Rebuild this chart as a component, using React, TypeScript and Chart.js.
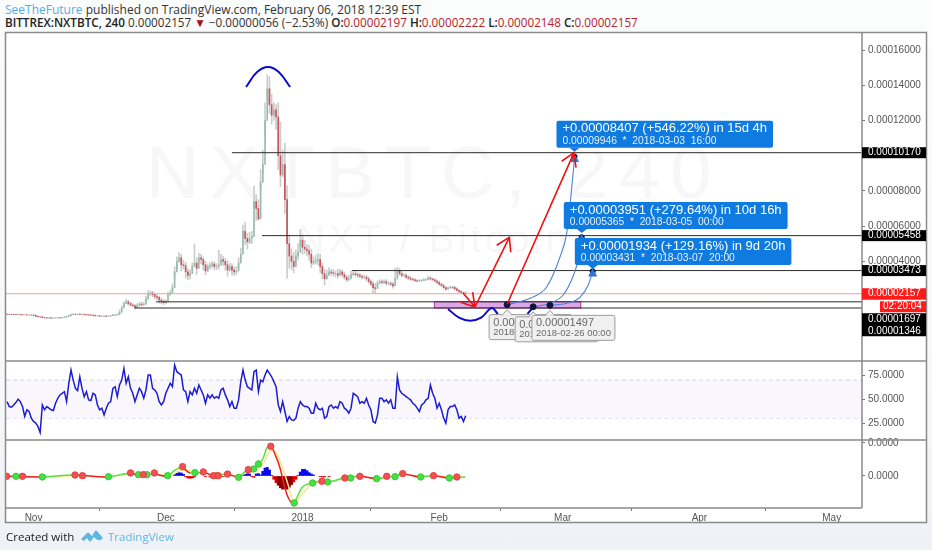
import React, { useEffect, useRef } from "react";
import { Chart, registerables } from "chart.js";

Chart.register(...registerables);

// x values are days since 2017-11-01; prices are in satoshi (1e-8 BTC)
const xTickDays = [0, 30, 61, 92, 120, 151, 181];
const xTickLabels = ["Nov", "Dec", "2018", "Feb", "Mar", "Apr", "May"];
const priceTicks = [4000, 6000, 8000, 10000, 12000, 14000, 16000];
const rsiTicks = [25, 50, 75];
const oscTicks = [0, 5];

const firstCandleDay = -6;
const candleStepDays = 0.5;

const candleCloses = [
  990,985,980,975,970,985,975,960,965,950,
  950,945,935,880,850,840,800,790,780,785,
  770,780,790,790,785,800,830,860,900,960,
  990,985,995,980,985,975,960,950,940,925,
  900,905,880,880,890,870,890,910,940,945,
  960,1100,1350,1600,1700,1600,1520,1480,1370,1500,
  1570,1530,1560,1850,2150,2200,2100,2000,1950,1800,
  1730,1650,1700,2100,2200,2500,3400,4000,4200,3800,
  3750,3400,3200,3300,3700,3900,3600,4200,4100,3800,
  3450,3700,3750,3850,3700,3720,3800,4100,4000,3800,
  3500,3700,3500,3400,3450,3900,4400,5700,5300,5100,
  5300,5400,7400,7000,6400,8500,9500,12000,13800,12900,
  12300,12600,12200,10000,8900,9500,7500,5000,4300,4000,
  3700,4300,4500,5200,4800,4700,4600,4400,3900,4000,
  4050,4100,3700,3300,3000,3200,3400,3350,3300,3300,
  3200,3400,3250,3100,2950,3000,3250,3300,3250,3200,
  3150,3100,3100,3000,2850,2700,2500,2450,2750,2850,
  2800,2850,2750,2750,2700,2600,3000,3450,3300,3200,
  3200,3100,3050,2980,2950,2900,2880,2900,2920,2950,
  2950,3050,3000,2950,2880,2800,2700,2620,2500,2420,
  2480,2530,2520,2430,2350,2280,2220,2197,2157,
];
const candleUpperWicks = [
  20,15,25,10,20,15,20,10,15,20,
  15,20,30,25,20,15,20,25,30,15,
  25,15,20,30,20,25,30,40,40,45,
  30,35,25,30,20,30,25,20,30,25,
  30,20,25,30,20,25,30,25,40,30,
  60,150,120,100,140,90,70,80,60,100,
  90,110,100,160,180,120,100,90,110,80,
  120,90,120,130,150,200,300,250,300,200,
  250,200,180,220,200,1080,300,250,200,150,
  200,150,180,130,120,150,840,300,200,180,
  250,200,150,180,250,300,350,360,500,300,
  350,300,880,400,500,700,800,1000,790,700,
  600,400,300,800,1900,800,1200,800,500,400,
  500,350,500,600,300,400,250,300,300,250,
  300,350,300,200,250,300,250,150,200,150,
  250,150,120,150,100,200,200,100,120,100,
  120,100,100,100,120,100,150,250,150,100,
  100,100,120,100,100,100,600,210,150,120,
  100,100,90,80,70,80,60,70,60,80,
  70,110,80,60,70,60,80,60,90,60,
  70,60,60,70,60,50,60,25,65,
];
const candleLowerWicks = [
  15,20,10,25,15,20,15,20,10,15,
  20,15,25,30,25,20,15,20,25,30,
  20,30,20,25,20,15,25,30,30,40,
  35,25,30,25,30,25,30,25,20,30,
  25,30,20,25,30,20,25,30,25,30,
  40,80,100,150,120,100,90,70,100,80,
  120,90,70,150,200,150,130,120,150,170,
  150,110,100,120,130,200,350,300,250,350,
  200,350,250,300,250,200,350,300,250,300,
  220,280,200,230,180,200,250,300,250,300,
  350,250,280,220,200,250,300,400,350,400,
  300,400,350,700,50,400,500,800,600,500,
  500,600,700,800,650,700,800,1970,700,500,
  350,300,400,300,400,250,300,350,250,200,
  200,300,350,300,350,200,150,150,150,200,
  150,200,150,120,100,120,100,120,100,120,
  100,120,100,120,110,100,320,270,120,110,
  100,120,110,100,100,120,80,150,120,100,
  90,80,90,70,60,60,60,50,70,60,
  60,90,70,70,60,70,80,60,70,80,
  50,60,70,60,50,60,40,50,9,
];

const rsiValues = [
  47.5,42.3,41.6,44,46.5,50,47.5,42.3,31.9,38.9,
  37.1,30.2,26.7,25,21.5,15.2,44,38.9,42.3,40.6,
  38.9,38.2,45.8,51,54.5,56.2,57.9,47.5,66.6,80.5,
  70,61.4,59,73.5,61.4,52.7,57.9,49.3,48.6,56.2,
  54.5,44,38.9,40.6,33.6,40.6,45.8,47.5,61.4,63.1,
  52.7,64.9,70,82.2,66.6,73.5,61.4,56.2,47.5,54.5,
  61.4,57.9,51,59.7,75.3,75.3,61.4,59.7,56.2,47.5,
  44,47.5,56.2,61.4,66.6,63.1,85.7,78.8,77,75.3,
  59.7,57.9,47.5,57.9,54.5,61.4,56.2,64.9,59.7,54.5,
  45.8,54.5,51,54.5,51,52.7,51,59.7,61.4,54.5,
  49.3,42.3,47.5,40.6,40.6,49.3,68.3,80.5,70,63.1,
  61.4,59.7,78.8,80.5,57.9,70,68.3,75.3,80.5,77,
  73.5,68.3,63.1,44,37.1,47.5,37.1,26.7,31.9,28.4,
  27.7,30.2,40.6,47.5,44,42.3,42.3,40.6,35.4,35.4,
  45.8,40.6,38.9,40.6,30.2,31.9,42.3,44,40.6,42.3,
  40.6,47.5,45.8,40.6,38.9,35.4,40.6,56.2,54.5,52.7,
  45.8,47.5,45.8,51,44,38.9,26.7,25,33.6,51,
  51,47.5,49.3,45.8,49.3,40.6,40.6,73.5,59.7,56.2,
  54.5,52.7,51,49.3,45.8,44,40.6,37.1,44,45.8,
  49.3,51,64.9,56.2,51,40.6,45.8,38.9,30.2,25,
  38.9,42.3,42.3,44,38.9,30.2,31.9,26.7,32.6,
];
const rsiBandLevels = [70, 30];

// oscillator values in 1e-6 units
const oscDays = [-6.1,1.5,9,16.6,21.9,24.2,27.2,30.2,31.7,33.6,35.5,37,38.4,40.8,43.8,46.5,48,49.9,51,52.1,52.9,53.8,54.8,55.9,57,57.8,58.9,59.7,60.8,63.1,65.4,66.9,70.3,74,77.8,80.9,83.9,87.7,90.7,94.1,97.9];
const oscFast = [-0.05,-0.15,0.15,-0.15,0.41,0.1,0.3,-0.05,0.71,1.32,0.46,0.46,0.61,0.05,0.3,-0.2,0.71,1.11,1.82,2.73,4.24,4.5,3.23,1.22,-1.82,-3.33,-4.19,-3.33,-1.82,-1.06,-0.8,-0.9,-0.3,-0.05,-0.4,-0.1,0.3,-0.15,0.05,-0.3,-0.2];
const oscSlow = [-0.05,-0.1,0.05,-0.1,0.25,0.2,0.25,0.1,0.3,0.9,0.8,0.5,0.5,0.2,0.2,0,0.4,0.8,1.2,1.9,2.9,3.8,3.8,2.2,0.2,-1.5,-3.7,-3.8,-2.8,-1.3,-0.95,-0.9,-0.4,-0.1,-0.3,-0.15,0.2,-0.05,0.02,-0.2,-0.15];
const histDays = [32,32.5,33,33.5,34,34.5,35,35.5,36,36.5,39,40,41,42,43,47.5,48,48.5,49,49.5,50,50.5,51,51.5,52,52.5,53,53.5,54,54.5,55,55.5,56,56.5,57,57.5,58,58.5,59,59.5,60,60.5,61,61.5,62,62.5,63,63.5,65,65.5,66,67];
const histValues = [0.2,0.4,0.5,0.45,0.25,-0.1,-0.3,-0.35,-0.3,-0.15,-0.05,-0.15,-0.2,-0.15,-0.1,0.2,0.45,0.5,0.3,-0.1,-0.2,0.3,0.35,0.15,0.7,1.2,1.3,0.9,0.1,-0.5,-1,-1.4,-1.8,-2,-1.9,-2,-1.7,-1.3,-0.9,-0.5,0.1,0.6,1,1,0.8,0.5,0.3,0.15,-0.1,-0.15,-0.15,-0.12];
const redDotDays = [-6.1,-2.5,9.4,11.1,22,24.9,27.4,33.8,38.5,40.8,41.9,44,48.7,53.8,65.4,70.6,74,80.1,83.7,90.7,96];
const redDotValues = [-0.05,-0.05,0.15,0.05,0.46,0.2,0.46,1.42,0.61,0.05,0.05,0.3,0.96,4.5,-0.8,-0.3,-0.05,-0.05,0.36,0.05,-0.15];
const greenDotDays = [-4,2,17,23.8,25.7,30.4,36.6,41.5,46.5,49.9,51,59.1,63.3,66.7,71.9,77.8,82,87.8,94.3];
const greenDotValues = [-0.05,-0.15,-0.1,0.2,0.2,0.05,0.51,0.05,-0.2,1.06,1.82,-4.09,-1.06,-0.9,-0.3,-0.4,-0.1,-0.15,-0.3];

// horizontal levels: price and the day each starts on
const levelPrices = [10170, 5458, 3473, 1697, 1346];
const levelStartDays = [45, 51.8, 72.2, 27.8, 23];
const lastPrice = 2157;

const topArcDays = [48.2, 50.7, 53.2, 55.6, 58.2];
const topArcPrices = [13904, 14756, 15040, 14756, 13904];
const bottomArcDays = [94, 96.5, 99, 101.5, 103.9, 105.3];
const bottomArcPrices = [1290, 800, 625, 800, 1347, 1000];
const bottomArc2Days = [112, 113.3];
const bottomArc2Prices = [1010, 1386];

const zoneDays = [90.9, 124.1];
const zonePrices = [1705, 1347];

const redArrowStartDays = [97.4, 100.1, 107.4];
const redArrowStartPrices = [2199, 1403, 1557];
const redArrowEndDays = [100.1, 107.9, 122.56];
const redArrowEndPrices = [1403, 5364, 10171];

const curveADays = [107.4, 112.6, 116.4, 119.4, 120.9, 122, 122.67];
const curveAPrices = [1539, 1898, 2557, 4261, 5591, 8051, 9853];
const curveBDays = [113.3, 117.1, 120.1, 122, 123.3, 124.3];
const curveBPrices = [1414, 1614, 2085, 2938, 3886, 5365];
const curveCDays = [117.1, 120.9, 123.9, 125.8, 126.8];
const curveCPrices = [1497, 1614, 1955, 2653, 3431];

const projectionTipDays = [122.67, 124.33, 126.83];
const projectionTipPrices = [10170, 5551, 3506];
const projectionHeads = ["+0.00008407 (+546.22%) in 15d 4h", "+0.00003951 (+279.64%) in 10d 16h", "+0.00001934 (+129.16%) in 9d 20h"];
const projectionSubs = ["0.00009946  *  2018-03-03  16:00", "0.00005365  *  2018-03-05  00:00", "0.00003431  *  2018-03-07  20:00"];
const startTipDays = [107.4, 113.3, 117.1];
const startTipPrices = [1539, 1414, 1497];
const startHeads = ["0.00001539", "0.00001414", "0.00001497"];
const startSubs = ["2018-02-16 12:00", "2018-02-22 08:00", "2018-02-26 00:00"];

const blackBadgePrices = [10170, 5458, 3473];
const stackedBadgePrices = [1697, 1346];
const countdownText = "02:20:04";

const FONT = '"Liberation Sans", Arial, sans-serif';
const satText = (v: number) => (v / 1e8).toFixed(8);

function pts(xs: number[], ys: number[]) {
  return xs.map((x, i) => ({ x, y: ys[i] }));
}

function roundRect(ctx: CanvasRenderingContext2D, x: number, y: number, w: number, h: number, r: number) {
  ctx.beginPath();
  ctx.roundRect(x, y, w, h, r);
}

const annotationPlugin = {
  id: "annotations",
  beforeDatasetsDraw(chart: any) {
    const { ctx, scales } = chart;
    const x = scales.x;
    const y = scales.yPrice;
    ctx.save();
    ctx.fillStyle = "#f7f7f7";
    ctx.textAlign = "center";
    ctx.textBaseline = "alphabetic";
    ctx.font = `74px ${FONT}`;
    (ctx as any).letterSpacing = "10.5px";
    ctx.fillText("NXTBTC, 240", 434, 198);
    ctx.font = `38px ${FONT}`;
    (ctx as any).letterSpacing = "4px";
    ctx.fillText("NXT / Bitcoin", 434, 252);
    (ctx as any).letterSpacing = "0px";
    // zone box
    const zx0 = x.getPixelForValue(zoneDays[0]);
    const zx1 = x.getPixelForValue(zoneDays[1]);
    const zy0 = y.getPixelForValue(zonePrices[0]);
    const zy1 = y.getPixelForValue(zonePrices[1]);
    ctx.fillStyle = "#dda6e6";
    ctx.strokeStyle = "#a8389f";
    ctx.lineWidth = 1;
    ctx.fillRect(zx0, zy0, zx1 - zx0, zy1 - zy0);
    ctx.strokeRect(zx0, zy0, zx1 - zx0, zy1 - zy0);
    ctx.restore();
  },
  afterDatasetsDraw(chart: any) {
    const { ctx, scales } = chart;
    const x = scales.x;
    const y = scales.yPrice;
    ctx.save();
    // red arrows
    ctx.strokeStyle = "#ee1111";
    ctx.lineWidth = 1.6;
    redArrowStartDays.forEach((d, i) => {
      const x0 = x.getPixelForValue(d);
      const y0 = y.getPixelForValue(redArrowStartPrices[i]);
      const x1 = x.getPixelForValue(redArrowEndDays[i]);
      const y1 = y.getPixelForValue(redArrowEndPrices[i]);
      const a = Math.atan2(y1 - y0, x1 - x0);
      ctx.beginPath();
      ctx.moveTo(x0, y0);
      ctx.lineTo(x1, y1);
      ctx.moveTo(x1 - 15 * Math.cos(a - 0.55), y1 - 15 * Math.sin(a - 0.55));
      ctx.lineTo(x1, y1);
      ctx.lineTo(x1 - 15 * Math.cos(a + 0.55), y1 - 15 * Math.sin(a + 0.55));
      ctx.stroke();
    });
    // grey start labels
    startHeads.forEach((head, i) => {
      const tx = x.getPixelForValue(startTipDays[i]);
      const ty = y.getPixelForValue(startTipPrices[i]);
      const left = tx - 18;
      const top = ty + 10;
      const w = 83;
      const h = 25;
      ctx.fillStyle = "#f0f0f0";
      ctx.strokeStyle = "#9c9c9c";
      ctx.lineWidth = 1;
      roundRect(ctx, left, top, w, h, 2);
      ctx.fill();
      ctx.stroke();
      ctx.beginPath();
      ctx.moveTo(tx - 5, top + 0.5);
      ctx.lineTo(tx, top - 5);
      ctx.lineTo(tx + 5, top + 0.5);
      ctx.fill();
      ctx.stroke();
      ctx.fillStyle = "#6a6a6a";
      ctx.textAlign = "left";
      ctx.textBaseline = "middle";
      ctx.font = `11px ${FONT}`;
      ctx.fillText(head, left + 4, top + 8);
      ctx.font = `9.5px ${FONT}`;
      ctx.fillText(startSubs[i], left + 4, top + 18);
    });
    // blue projection labels
    projectionHeads.forEach((head, i) => {
      const tx = x.getPixelForValue(projectionTipDays[i]);
      const ty = y.getPixelForValue(projectionTipPrices[i]);
      const left = tx - 18;
      const bottom = ty - 5;
      const h = 27;
      ctx.font = `13px ${FONT}`;
      const w = ctx.measureText(head).width + 12;
      ctx.fillStyle = "#0f7ae0";
      roundRect(ctx, left, bottom - h, w, h, 2);
      ctx.fill();
      ctx.beginPath();
      ctx.moveTo(tx - 5, bottom);
      ctx.lineTo(tx, bottom + 4);
      ctx.lineTo(tx + 5, bottom);
      ctx.fill();
      ctx.fillStyle = "#ffffff";
      ctx.textAlign = "left";
      ctx.textBaseline = "middle";
      ctx.fillText(head, left + 6, bottom - h + 8);
      ctx.font = `10.3px ${FONT}`;
      ctx.fillStyle = "#e4f0fc";
      ctx.fillText(projectionSubs[i], left + 6, bottom - h + 20);
    });
    ctx.restore();
  },
  afterDraw(chart: any) {
    const { ctx, scales, chartArea } = chart;
    const yP = scales.yPrice;
    const yR = scales.yRsi;
    const yO = scales.yOsc;
    const x = scales.x;
    ctx.save();
    // frame and separators
    ctx.strokeStyle = "#8a8a8a";
    ctx.lineWidth = 1.5;
    ctx.strokeRect(5.5, 32.5, 921, 490);
    ctx.beginPath();
    ctx.moveTo(5, yP.bottom);
    ctx.lineTo(926, yP.bottom);
    ctx.moveTo(5, yR.bottom);
    ctx.lineTo(926, yR.bottom);
    ctx.moveTo(5, yO.bottom);
    ctx.lineTo(x.right, yO.bottom);
    ctx.moveTo(x.right, 33);
    ctx.lineTo(x.right, yO.bottom);
    ctx.stroke();
    // price badges
    const badgeL = chartArea.right;
    const badgeW = 926 - badgeL;
    const textX = badgeL + 6;
    ctx.textAlign = "left";
    ctx.textBaseline = "middle";
    ctx.font = `10px ${FONT}`;
    blackBadgePrices.forEach((p) => {
      const py = yP.getPixelForValue(p);
      ctx.fillStyle = "#000000";
      ctx.fillRect(badgeL, py - 5.5, badgeW, 11);
      ctx.fillStyle = "#ffffff";
      ctx.fillText(satText(p), textX, py);
    });
    const lastY = yP.getPixelForValue(lastPrice);
    ctx.fillStyle = "#ff1a1a";
    ctx.fillRect(badgeL, lastY - 5.5, badgeW, 11.5);
    ctx.fillRect(880, lastY + 7.5, 46, 11);
    ctx.fillStyle = "#ffffff";
    ctx.fillText(satText(lastPrice), textX, lastY);
    ctx.fillText(countdownText, 883, lastY + 13);
    ctx.fillStyle = "#000000";
    ctx.fillRect(badgeL, lastY + 19.5, badgeW, 23);
    ctx.fillStyle = "#ffffff";
    stackedBadgePrices.forEach((p, i) => {
      ctx.fillText(satText(p), textX, lastY + 25.5 + i * 12);
    });
    ctx.restore();
  },
};

export default function App() {
  const ref = useRef<HTMLCanvasElement | null>(null);
  useEffect(() => {
    document.body.style.margin = "0";
    const candleDays = candleCloses.map((_, i) => firstCandleDay + i * candleStepDays);
    const xMin = -6.24;
    const xMax = 187.87;
    const wickBars = candleDays.map((d, i) => ({
      x: d,
      y: [candleCloses[i] - candleLowerWicks[i], Math.max(candleCloses[i], i ? candleCloses[i - 1] : candleCloses[i]) + candleUpperWicks[i]],
    }));
    const bodyBars = candleDays.map((d, i) => ({
      x: d,
      y: [i ? candleCloses[i - 1] : candleCloses[i] + 5, candleCloses[i]],
    }));
    const bodyColors = candleCloses.map((c, i) => (i && c >= candleCloses[i - 1] ? "#94bbae" : "#c9535c"));
    const curveEndDay = (i: number) => [curveADays, curveBDays, curveCDays][i].slice(-1)[0];
    const arrowEnds = pts(projectionTipDays.map((_, i) => curveEndDay(i)), [9946, 5365, 3431]);

    const lineBase = { type: "line", xAxisID: "x", pointRadius: 0, fill: false };
    const priceLine = { ...lineBase, yAxisID: "yPrice" };
    const levelSets = levelPrices.map((p, i) => ({
      ...priceLine,
      data: pts([levelStartDays[i], xMax], [p, p]),
      borderColor: "#2b2b2b",
      borderWidth: 1,
      order: 3,
    }));

    const chart = new Chart(ref.current as HTMLCanvasElement, {
      type: "line",
      data: {
        datasets: [
          { ...priceLine, data: pts(projectionTipDays.map((_, i) => curveEndDay(i)), [9800, 5250, 3290]), showLine: false, pointRadius: 4.5, pointStyle: "triangle", pointBackgroundColor: "#2f74d6", pointBorderColor: "#2f74d6", order: 0 },
          { ...priceLine, data: arrowEnds, showLine: false, pointRadius: 2.6, pointBackgroundColor: "#101030", pointBorderColor: "#101030", order: 0 },
          { ...priceLine, data: pts(startTipDays, startTipPrices), showLine: false, pointRadius: 3, pointBackgroundColor: "#14143a", pointBorderColor: "#14143a", order: 0 },
          { ...priceLine, data: pts(curveADays, curveAPrices), borderColor: "#4c82d8", borderWidth: 1.1, cubicInterpolationMode: "monotone", order: 1 },
          { ...priceLine, data: pts(curveBDays, curveBPrices), borderColor: "#4c82d8", borderWidth: 1.1, cubicInterpolationMode: "monotone", order: 1 },
          { ...priceLine, data: pts(curveCDays, curveCPrices), borderColor: "#4c82d8", borderWidth: 1.1, cubicInterpolationMode: "monotone", order: 1 },
          { ...priceLine, data: pts(topArcDays, topArcPrices), borderColor: "#0a0ad0", borderWidth: 2, tension: 0.4, order: 2 },
          { ...priceLine, data: pts(bottomArcDays, bottomArcPrices), borderColor: "#0a0ad0", borderWidth: 2, tension: 0.4, order: 2 },
          { ...priceLine, data: pts(bottomArc2Days, bottomArc2Prices), borderColor: "#0a0ad0", borderWidth: 2, order: 2 },
          ...levelSets,
          { ...priceLine, data: pts([xMin, xMax], [lastPrice, lastPrice]), borderColor: "#eea0a0", borderWidth: 1, order: 4 },
          { type: "bar", xAxisID: "x", yAxisID: "yPrice", grouped: false, barThickness: 1, data: bodyBars, backgroundColor: bodyColors, order: 5 },
          { type: "bar", xAxisID: "x", yAxisID: "yPrice", grouped: false, barThickness: 1, data: wickBars, backgroundColor: "#cccccc", order: 6 },
          // RSI pane
          { ...lineBase, yAxisID: "yRsi", data: pts(candleDays, rsiValues), borderColor: "#1c1cd0", borderWidth: 1.5, order: 1 },
          { ...lineBase, yAxisID: "yRsi", data: pts([xMin, xMax], [rsiBandLevels[0], rsiBandLevels[0]]), borderColor: "#d6d6d6", borderWidth: 1, borderDash: [4, 3], fill: "+1", backgroundColor: "#f9f7fd", order: 2 },
          { ...lineBase, yAxisID: "yRsi", data: pts([xMin, xMax], [rsiBandLevels[1], rsiBandLevels[1]]), borderColor: "#d6d6d6", borderWidth: 1, borderDash: [4, 3], order: 2 },
          // Oscillator pane
          { ...lineBase, yAxisID: "yOsc", data: pts(redDotDays, redDotValues), showLine: false, pointRadius: 3.2, pointBackgroundColor: "#f25050", pointBorderColor: "#e84040", order: 0 },
          { ...lineBase, yAxisID: "yOsc", data: pts(greenDotDays, greenDotValues), showLine: false, pointRadius: 3.2, pointBackgroundColor: "#44e044", pointBorderColor: "#38c838", order: 0 },
          {
            ...lineBase, yAxisID: "yOsc", data: pts(oscDays, oscFast), borderWidth: 1.5, cubicInterpolationMode: "monotone", order: 1,
            borderColor: "#ee2222",
            segment: { borderColor: (c: any) => (c.p1.parsed.y >= c.p0.parsed.y ? "#58e040" : "#ee2222") },
          },
          { ...lineBase, yAxisID: "yOsc", data: pts(oscDays, oscSlow), borderColor: "#fde58a", borderWidth: 1.5, cubicInterpolationMode: "monotone", order: 2 },
          {
            type: "bar", xAxisID: "x", yAxisID: "yOsc", grouped: false, barThickness: 2.3, order: 3,
            data: pts(histDays, histValues),
            backgroundColor: histValues.map((v) => (v > 0 ? "#0a0af0" : v < -1.2 ? "#8c0000" : "#e00000")),
          },
        ] as any,
      },
      options: {
        animation: false,
        responsive: false,
        events: [],
        layout: { padding: { top: 33, bottom: 28, left: 6, right: 6 } },
        plugins: { legend: { display: false }, tooltip: { enabled: false } },
        scales: {
          x: {
            type: "linear",
            position: "bottom",
            min: xMin,
            max: xMax,
            offset: false,
            afterBuildTicks: (s: any) => { s.ticks = xTickDays.map((value) => ({ value })); },
            afterFit: (s: any) => { s.height = 14; s.paddingLeft = 0; s.paddingRight = 0; },
            border: { display: false },
            grid: { drawOnChartArea: false, drawTicks: true, tickLength: 3, color: "#777" },
            ticks: {
              autoSkip: false, maxRotation: 0, padding: 1, color: "#555",
              font: { family: FONT, size: 10 },
              callback: (v: any) => xTickLabels[xTickDays.indexOf(v)] ?? "",
            },
          },
          yPrice: {
            type: "linear", position: "right", stack: "panes", stackWeight: 328, weight: 1,
            min: -1665, max: 16972,
            afterBuildTicks: (s: any) => { s.ticks = priceTicks.map((value) => ({ value })); },
            afterFit: (s: any) => { s.width = 64; s.paddingTop = 0; s.paddingBottom = 0; },
            border: { display: false },
            grid: { drawOnChartArea: false, tickLength: 3, color: "#777" },
            ticks: { padding: 3, color: "#555", font: { family: FONT, size: 10 }, callback: (v: any) => satText(v) },
          },
          yRsi: {
            type: "linear", position: "right", stack: "panes", stackWeight: 79, weight: 2,
            min: 7.3, max: 90,
            afterBuildTicks: (s: any) => { s.ticks = rsiTicks.map((value) => ({ value })); },
            afterFit: (s: any) => { s.width = 64; s.paddingTop = 0; s.paddingBottom = 0; },
            border: { display: false },
            grid: { drawOnChartArea: false, tickLength: 3, color: "#777" },
            ticks: { padding: 3, color: "#555", font: { family: FONT, size: 10 }, callback: (v: any) => Number(v).toFixed(4) },
          },
          yOsc: {
            type: "linear", position: "right", stack: "panes", stackWeight: 68, weight: 3,
            min: -4.85, max: 5.45,
            afterBuildTicks: (s: any) => { s.ticks = oscTicks.map((value) => ({ value })); },
            afterFit: (s: any) => { s.width = 64; s.paddingTop = 0; s.paddingBottom = 0; },
            border: { display: false },
            grid: { drawOnChartArea: false, tickLength: 3, color: "#777" },
            ticks: { padding: 3, color: "#555", font: { family: FONT, size: 10 }, callback: (v: any) => (Number(v) / 1e6).toFixed(4) },
          },
        },
      } as any,
      plugins: [annotationPlugin] as any,
    });
    return () => chart.destroy();
  }, []);

  const uiFont = '"Open Sans", sans-serif';
  const red = { color: "#b5232e" };
  const b = { fontWeight: 600, color: "#222" };
  return (
    <div style={{ position: "fixed", left: 0, top: 0, width: 932, height: 550, overflow: "hidden", background: "linear-gradient(#fbfcfc 0%, #f6f8f9 70%, #eef2f6 100%)", fontFamily: uiFont }}>
      <div style={{ position: "absolute", left: 5, top: 2, fontSize: 12, lineHeight: "15px", color: "#333", whiteSpace: "nowrap" }}>
        <span style={{ color: "#55aee0" }}>SeeTheFuture</span> published on TradingView.com, February 06, 2018 12:39 EST
      </div>
      <div style={{ position: "absolute", left: 5, top: 15, fontSize: 11.7, lineHeight: "15px", color: "#333", whiteSpace: "nowrap" }}>
        <span style={b}>BITTREX:NXTBTC, 240</span> 0.00002157 <span style={{ color: "#a80f16" }}>▼</span> −0.00000056 (−2.53%){" "}
        <span style={b}>O:</span><span style={red}>0.00002197</span> <span style={b}>H:</span><span style={red}>0.00002222</span>{" "}
        <span style={b}>L:</span><span style={red}>0.00002148</span> <span style={b}>C:</span><span style={red}>0.00002157</span>
      </div>
      <div style={{ position: "absolute", left: 5, top: 33, width: 921, height: 490, background: "#ffffff" }} />
      <canvas ref={ref} width={932} height={550} style={{ position: "absolute", left: 0, top: 0, width: 932, height: 550 }} />
      <div style={{ position: "absolute", left: 6, top: 529, fontSize: 11.5, lineHeight: "15px", color: "#222", whiteSpace: "nowrap" }}>Created with</div>
      <svg style={{ position: "absolute", left: 81, top: 530 }} width={22} height={13} viewBox="0 0 22 13">
        <path d="M0 9 L6 3 Q7 2 8 3 L11 6 L14 1 Q15 0 16 1 L22 8 Q19 12 15 9 L13 7 L10 11 Q9 12 8 11 L6 8 L3 11 Z" fill="#5db6e4" />
      </svg>
      <div style={{ position: "absolute", left: 108, top: 529, fontSize: 11.5, lineHeight: "15px", color: "#62b6e2", whiteSpace: "nowrap" }}>TradingView</div>
    </div>
  );
}
